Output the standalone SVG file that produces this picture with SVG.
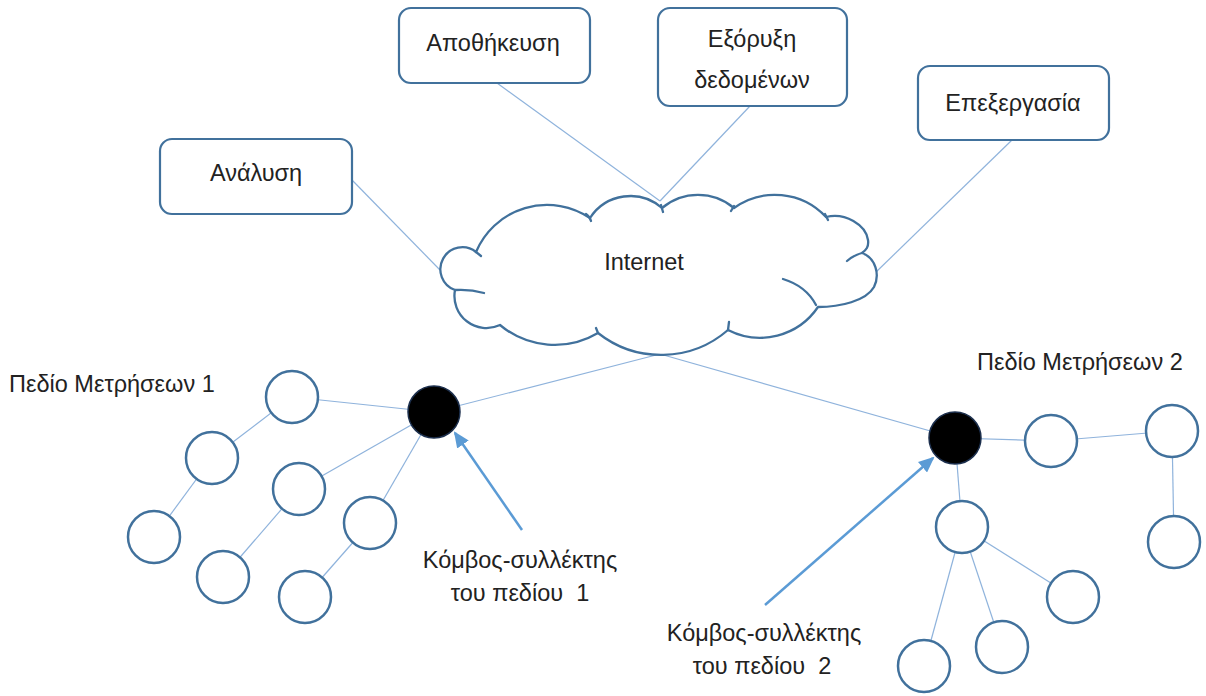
<svg xmlns="http://www.w3.org/2000/svg" width="1206" height="696" viewBox="0 0 1206 696">
<style>
.box{fill:#fff;stroke:#41719c;stroke-width:2.2}
.cir{fill:#fff;stroke:#41719c;stroke-width:2.5}
.hub{fill:#000;stroke:#1c2f4d;stroke-width:1.5}
.cloud{fill:#fff;stroke:#41719c;stroke-width:2.3;stroke-linejoin:round}
.tail{fill:none;stroke:#41719c;stroke-width:2.3;stroke-linecap:round}
.ln{stroke:#8fb3dc;stroke-width:1.2;fill:none}
.arr{stroke:#5b9bd5;stroke-width:2.5;fill:none}
.t{font-family:"Liberation Sans",Arial,sans-serif;font-size:23.5px;fill:#222;white-space:pre}
.m{text-anchor:middle}
</style>
<defs>
<marker id="ah" markerUnits="userSpaceOnUse" markerWidth="16" markerHeight="14" refX="14" refY="7" orient="auto">
<path d="M0,0 L16,7 L0,14 z" fill="#5b9bd5"/>
</marker>
</defs>
<g id="connectors">
<line class="ln" x1="352" y1="180" x2="440" y2="270"/>
<line class="ln" x1="497" y1="83" x2="660" y2="201"/>
<line class="ln" x1="750" y1="106" x2="660" y2="201"/>
<line class="ln" x1="1012" y1="140" x2="874" y2="274"/>
<line class="ln" x1="660" y1="354" x2="434" y2="412"/>
<line class="ln" x1="660" y1="354" x2="955" y2="438"/>
<line class="ln" x1="434" y1="412" x2="292" y2="397"/>
<line class="ln" x1="292" y1="397" x2="212" y2="458"/>
<line class="ln" x1="212" y1="458" x2="154" y2="537"/>
<line class="ln" x1="434" y1="412" x2="299" y2="489"/>
<line class="ln" x1="299" y1="489" x2="223" y2="577"/>
<line class="ln" x1="434" y1="412" x2="370" y2="523"/>
<line class="ln" x1="370" y1="523" x2="305" y2="597"/>
<line class="ln" x1="955" y1="438" x2="1051" y2="441"/>
<line class="ln" x1="1051" y1="441" x2="1172" y2="431"/>
<line class="ln" x1="1172" y1="431" x2="1174" y2="542"/>
<line class="ln" x1="955" y1="438" x2="962" y2="527"/>
<line class="ln" x1="962" y1="527" x2="1073" y2="597"/>
<line class="ln" x1="962" y1="527" x2="1002" y2="647"/>
<line class="ln" x1="962" y1="527" x2="924" y2="666"/>
<line class="arr" x1="522" y1="530" x2="455" y2="433" marker-end="url(#ah)"/>
<line class="arr" x1="765" y1="605" x2="933" y2="458" marker-end="url(#ah)"/>
</g>
<g id="n-analysi">
<rect class="box" x="160" y="139" width="192" height="75" rx="12"/>
<text class="t m" x="256" y="181">Ανάλυση</text>
</g>
<g id="n-apothikeusi">
<rect class="box" x="399" y="8" width="191" height="75" rx="12"/>
<text class="t m" x="493" y="51">Αποθήκευση</text>
</g>
<g id="n-exoryxi">
<rect class="box" x="658" y="8" width="189" height="98" rx="12"/>
<text class="t m" x="752" y="47">Εξόρυξη</text>
<text class="t m" x="752" y="88">δεδομένων</text>
</g>
<g id="n-epexergasia">
<rect class="box" x="918" y="66" width="191" height="74" rx="12"/>
<text class="t m" x="1013" y="111">Επεξεργασία</text>
</g>
<g id="n-internet">
<path class="cloud" d="M476,252 A77,77 0 0 1 590,218 A48,48 0 0 1 662,208 A56,56 0 0 1 734,208 A70,70 0 0 1 826,217 C845,212 866,225 868,240 C869,247 866,250 862,253 C876,258 880,275 874,287 C866,301 840,307 818,307 A70,70 0 0 1 728,330 A102,102 0 0 1 598,333 A85,85 0 0 1 500,325 A32,32 0 0 1 455,290 A22,22 0 1 1 476,252 Z"/>
<path class="tail" d="M783,279 Q806,286 816,305 M862,253 Q854,255 847,261 M455,290 Q470,289 484,293 M586,214 Q590,217 591,221 M661,205 L663,212 M734,206 L731,211 M825,214 L828,220 M728,330 L729,322 M598,333 L596,328 M476,252 L481,256"/>
<text class="t m" x="644" y="270">Internet</text>
</g>
<g id="field1">
<text class="t" x="9" y="392">Πεδίο Μετρήσεων 1</text>
<circle class="cir" cx="292" cy="397" r="26"/>
<circle class="cir" cx="212" cy="458" r="26"/>
<circle class="cir" cx="154" cy="537" r="26"/>
<circle class="cir" cx="299" cy="489" r="26"/>
<circle class="cir" cx="223" cy="577" r="26"/>
<circle class="cir" cx="370" cy="523" r="26"/>
<circle class="cir" cx="305" cy="597" r="26"/>
</g>
<g id="hub1">
<circle class="hub" cx="434" cy="412" r="26"/>
</g>
<g id="label-hub1">
<text class="t m" x="520" y="568">Κόμβος-συλλέκτης</text>
<text class="t m" x="520" y="601">του πεδίου  1</text>
</g>
<g id="field2">
<text class="t" x="977" y="370">Πεδίο Μετρήσεων 2</text>
<circle class="cir" cx="1051" cy="441" r="26"/>
<circle class="cir" cx="1172" cy="431" r="26"/>
<circle class="cir" cx="1174" cy="542" r="26"/>
<circle class="cir" cx="962" cy="527" r="26"/>
<circle class="cir" cx="1073" cy="597" r="26"/>
<circle class="cir" cx="1002" cy="647" r="26"/>
<circle class="cir" cx="924" cy="666" r="26"/>
</g>
<g id="hub2">
<circle class="hub" cx="955" cy="438" r="26"/>
</g>
<g id="label-hub2">
<text class="t m" x="764" y="641">Κόμβος-συλλέκτης</text>
<text class="t m" x="762" y="674">του πεδίου  2</text>
</g>
</svg>
